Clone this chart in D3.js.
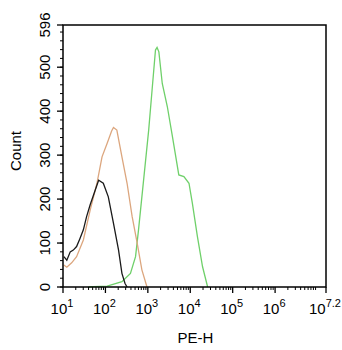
<!DOCTYPE html>
<meta charset="utf-8"/>
<style>
  body { margin: 0; background: #fff; }
  text { font-family: "Liberation Sans", Arial, sans-serif; fill: #000; }
</style>
<body>
<svg width="342" height="350"></svg>
</body>
<script src="https://d3js.org/d3.v7.min.js"></script>
<script>

  // histogram traces: [PE-H, count]
  var isotype = [[10.5, 69], [12.3, 61], [14.8, 80], [17.5, 84], [20.9, 92], [25, 110], [30.2, 130],
    [36, 160], [43.7, 187], [55, 215], [69.2, 243], [89.1, 236], [117, 205], [155, 145],
    [204, 84], [245, 31], [290, 8], [324, 0]]

  var unstained = [[10.5, 50], [12.3, 45], [16, 55], [20.9, 69], [30.2, 107], [43.7, 175],
    [63.1, 236], [83.2, 296], [110, 327], [140, 355], [155, 363], [186, 357], [245, 296],
    [324, 236], [427, 160], [562, 99], [724, 39], [955, 0]]

  var stained = [[40, 0], [52.5, 1], [110, 2], [245, 12], [389, 31], [513, 69], [603, 130],
    [794, 243], [1047, 357], [1259, 448], [1514, 539], [1650, 545], [1820, 535], [2188, 463],
    [2884, 410], [3802, 342], [5370, 255], [7079, 251], [9333, 236], [11220, 190],
    [14790, 114], [19500, 46], [25700, 0]]

  var xExps = [1, 2, 3, 4, 5, 6, 7.2]
  var yTicks = [0, 100, 200, 300, 400, 500, 596]

  var svg = d3.select("svg"),
    margin = {top: 25, right: 16, bottom: 63, left: 63},
    width = 342 - margin.left - margin.right,
    height = 350 - margin.top - margin.bottom

  var x = d3.scaleLog().domain([10, Math.pow(10, 7.2)]).range([0, width])
  var y = d3.scaleLinear().domain([0, 596]).range([height, 0])

  var g = svg.append("g").attr("transform", "translate(" + margin.left + "," + margin.top + ")")

  var line = d3.line()
    .x(function (d) { return x(d[0]) })
    .y(function (d) { return y(d[1]) })

  var series = [
    {data: stained, color: "#6fd06a"},
    {data: unstained, color: "#dca67e"},
    {data: isotype, color: "#1a1a1a"}
  ]

  g.selectAll(".trace")
    .data(series)
    .enter().append("path")
    .attr("class", "trace")
    .attr("fill", "none")
    .attr("stroke", function (d) { return d.color })
    .attr("stroke-width", 1.3)
    .attr("d", function (d) { return line(d.data) })

  // frame
  g.append("rect")
    .attr("width", width).attr("height", height)
    .attr("fill", "none").attr("stroke", "#000").attr("stroke-width", 1.5)

  // y minor ticks every 20
  var yMinor = d3.range(0, 597, 20)
  g.selectAll(".ymin").data(yMinor).enter().append("line")
    .attr("x1", 0).attr("x2", -3)
    .attr("y1", function (d) { return y(d) }).attr("y2", function (d) { return y(d) })
    .attr("stroke", "#000")

  g.selectAll(".ymaj").data(yTicks).enter().append("line")
    .attr("x1", 0).attr("x2", -6)
    .attr("y1", function (d) { return y(d) }).attr("y2", function (d) { return y(d) })
    .attr("stroke", "#000").attr("stroke-width", 1.3)

  g.selectAll(".ylab").data(yTicks).enter().append("text")
    .attr("transform", function (d) { return "translate(-13," + y(d) + ") rotate(-90)" })
    .attr("text-anchor", "middle")
    .style("font-size", "15px")
    .text(function (d) { return d })

  // x log minor ticks
  var xMinor = []
  for (var e = 1; e < 8; e++) {
    for (var m = 2; m < 10; m++) {
      var v = m * Math.pow(10, e)
      if (v < Math.pow(10, 7.2)) xMinor.push(v)
    }
  }
  g.selectAll(".xmin").data(xMinor).enter().append("line")
    .attr("y1", height).attr("y2", height + 3)
    .attr("x1", function (d) { return x(d) }).attr("x2", function (d) { return x(d) })
    .attr("stroke", "#000")

  g.selectAll(".xmaj").data(xExps).enter().append("line")
    .attr("y1", height).attr("y2", height + 6)
    .attr("x1", function (d) { return x(Math.pow(10, d)) }).attr("x2", function (d) { return x(Math.pow(10, d)) })
    .attr("stroke", "#000").attr("stroke-width", 1.3)

  var xl = g.selectAll(".xlab").data(xExps).enter().append("text")
    .attr("x", function (d) { return x(Math.pow(10, d)) - 1 })
    .attr("y", height + 27)
    .attr("text-anchor", "middle")
    .style("font-size", "15px")
  xl.append("tspan").text("10")
  xl.append("tspan").attr("dy", -7).style("font-size", "11px").text(function (d) { return d })

  g.append("text")
    .attr("x", width / 2 + 1).attr("y", height + 56)
    .attr("text-anchor", "middle")
    .style("font-size", "15px")
    .text("PE-H")

  g.append("text")
    .attr("transform", "translate(-42," + (height / 2 - 5) + ") rotate(-90)")
    .attr("text-anchor", "middle")
    .style("font-size", "15px")
    .text("Count")

</script>
